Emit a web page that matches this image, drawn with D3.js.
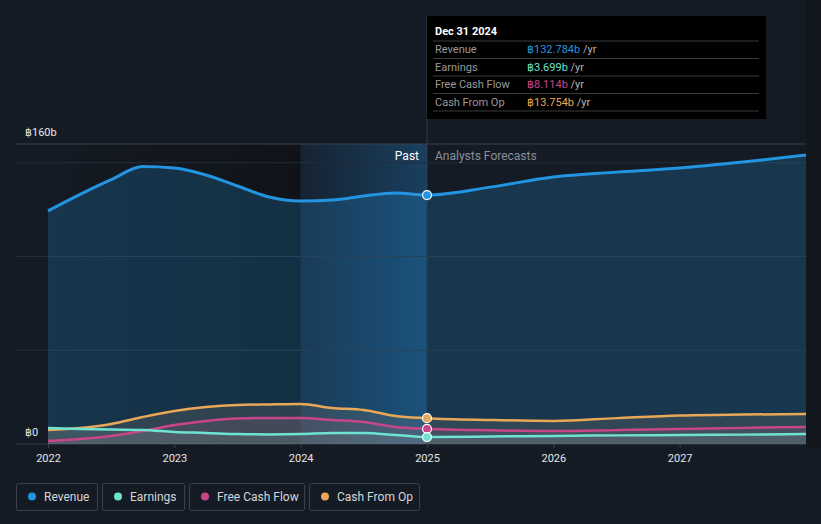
<!DOCTYPE html>
<html><head><meta charset="utf-8">
<script src="https://cdn.jsdelivr.net/npm/d3@7"></script>
<style>
html,body{margin:0;padding:0;background:#151b25;}
svg{display:block;font-family:Roboto,"Noto Sans",sans-serif;}
</style></head><body>
<svg id="c" width="821" height="524"></svg>
<script>
// ---- data (values in ฿ billions) ----
const pastYears = [2022.0,2022.25,2022.5,2022.75,2023.0,2023.25,2023.5,2023.75,2024.0,2024.25,2024.5,2024.75,2025.0];
const forecastYears = [2025.0,2025.5,2026.0,2026.5,2027.0,2027.5,2028.0];
const revenuePast = [124.3,133.0,141.0,148.0,147.2,143.5,137.6,131.7,129.6,130.1,132.3,133.9,132.784];
const revenueForecast = [132.784,137.0,142.4,145.0,147.2,150.4,154.1];
const earningsPast = [8.5,8.0,7.7,7.5,6.4,5.9,5.3,5.1,5.3,5.9,5.9,4.8,3.699];
const earningsForecast = [3.699,4.0,4.3,4.6,4.8,5.0,5.3];
const fcfPast = [1.6,2.7,4.3,6.9,10.1,12.3,13.6,13.9,13.9,12.8,11.7,9.1,8.114];
const fcfForecast = [8.114,7.3,6.9,7.4,8.0,8.6,9.1];
const cfoPast = [7.5,8.5,10.7,14.4,17.6,19.7,20.8,21.1,21.3,19.2,18.1,14.9,13.754];
const cfoForecast = [13.754,12.8,12.3,13.8,15.2,15.7,16.0];
const xTicks = [2022,2023,2024,2025,2026,2027];
const yGrid = [0,50,100,150];
const yLabels = [{v:160,t:"฿160b"},{v:0,t:"฿0"}];
const seriesNames = ["Revenue","Earnings","Free Cash Flow","Cash From Op"];
const seriesColors = ["#2394df","#6fe3d1","#c9458a","#e8a857"];
const tooltipTitle = "Dec 31 2024";
const tooltipValues = ["฿132.784b","฿3.699b","฿8.114b","฿13.754b"];
const hoverYear = 2025.0;

const svg = d3.select("#c");
const x = d3.scaleLinear().domain([2022,2028]).range([48,806]);
const y = d3.scaleLinear().domain([0,160]).range([444,144]);
const left = 16, right = 806;

svg.append("rect").attr("x",right).attr("y",0).attr("width",821-right).attr("height",448).attr("fill","#12161d");

const defs = svg.append("defs");
const pg = defs.append("linearGradient").attr("id","pastG").attr("x1",0).attr("x2",1);
pg.append("stop").attr("offset",0).attr("stop-color","#0e1115").attr("stop-opacity",0);
pg.append("stop").attr("offset",1).attr("stop-color","#0e1115").attr("stop-opacity",0.75);
svg.append("rect").attr("x",left).attr("y",144).attr("width",x(2024)-left).attr("height",300).attr("fill","url(#pastG)");
const hg = defs.append("linearGradient").attr("id","hiG").attr("x1",0).attr("x2",1);
hg.append("stop").attr("offset",0).attr("stop-color","#1b4f7a").attr("stop-opacity",0.15);
hg.append("stop").attr("offset",1).attr("stop-color","#1b4f7a").attr("stop-opacity",0.7);
svg.append("rect").attr("x",x(2024)).attr("y",144).attr("width",x(2025)-x(2024)).attr("height",300).attr("fill","url(#hiG)");

// gridlines
svg.append("line").attr("x1",left).attr("x2",right).attr("y1",y(160)).attr("y2",y(160)).attr("stroke","#3b4049").attr("stroke-width",1);
yGrid.forEach(v=>{
  svg.append("line").attr("x1",left).attr("x2",right).attr("y1",y(v)).attr("y2",y(v))
    .attr("stroke", v===0 ? "#3b4049" : "#262c36").attr("stroke-width",1);
});
yLabels.forEach(d=>{
  svg.append("text").attr("x",25).attr("y",y(d.v)-8).attr("fill","#e6e6e6").attr("font-size",11).text(d.t);
});

// series
const all = [
  {past:revenuePast, fc:revenueForecast, fillOp:0.22, w:3},
  {past:earningsPast, fc:earningsForecast, fillOp:0.10, w:2.5},
  {past:fcfPast, fc:fcfForecast, fillOp:0.12, w:2.5},
  {past:cfoPast, fc:cfoForecast, fillOp:0.12, w:2.5}
];
const line = d3.line().x(d=>x(d[0])).y(d=>y(d[1])).curve(d3.curveMonotoneX);
const area = d3.area().x(d=>x(d[0])).y0(y(0)).y1(d=>y(d[1])).curve(d3.curveMonotoneX);
const order = [0,3,2,1];
const ptsOf = s => pastYears.map((t,k)=>[t,s.past[k]]).concat(forecastYears.slice(1).map((t,k)=>[t,s.fc[k+1]]));
order.forEach(i=>{
  const s = all[i];
  const pts = ptsOf(s);
  svg.append("path").attr("d",area(pts)).attr("fill", i===0 ? "#2394df" : "#8a8a8a")
    .attr("fill-opacity", i===0 ? s.fillOp : 0.13);
  if(i!==0) svg.append("path").attr("d",area(pts)).attr("fill",seriesColors[i]).attr("fill-opacity",0.06);
});
order.forEach(i=>{
  const s = all[i];
  svg.append("path").attr("d",line(ptsOf(s))).attr("fill","none").attr("stroke",seriesColors[i]).attr("stroke-width",s.w);
});

// hover line
svg.append("line").attr("x1",x(hoverYear)).attr("x2",x(hoverYear)).attr("y1",16).attr("y2",444).attr("stroke","#2c3a4c").attr("stroke-width",1);

svg.append("text").attr("x",x(hoverYear)-8).attr("y",160).attr("text-anchor","end").attr("fill","#ffffff").attr("font-size",12).text("Past");
svg.append("text").attr("x",x(hoverYear)+8).attr("y",160).attr("fill","#8a8f98").attr("font-size",12).text("Analysts Forecasts");

[0,3,2,1].forEach(i=>{
  svg.append("circle").attr("cx",x(hoverYear)).attr("cy",y(all[i].past[all[i].past.length-1])).attr("r",4.5)
    .attr("fill",seriesColors[i]).attr("stroke","#ffffff").attr("stroke-width",1.2);
});

// x axis
const xa = svg.append("g").attr("transform",`translate(0,${y(0)})`)
  .call(d3.axisBottom(x).tickValues(xTicks).tickFormat(d3.format("d")).tickSize(4).tickPadding(6));
xa.select(".domain").remove();
xa.selectAll("line").attr("stroke","#3b4049");
xa.selectAll("text").attr("fill","#e6e6e6").attr("font-size",11).attr("font-family","Roboto,sans-serif");

// tooltip
const tt = svg.append("g").attr("transform","translate(427,16)");
tt.append("rect").attr("width",339).attr("height",103).attr("fill","#000000");
tt.append("text").attr("x",8).attr("y",19).attr("fill","#ffffff").attr("font-size",11).attr("font-weight","bold").text(tooltipTitle);
seriesNames.forEach((n,i)=>{
  const yy = 25 + i*17.5;
  tt.append("line").attr("x1",6).attr("x2",332).attr("y1",yy).attr("y2",yy).attr("stroke","#3a3a3a");
  tt.append("text").attr("x",8).attr("y",yy+12).attr("fill","#9a9a9a").attr("font-size",11).text(n);
  const t = tt.append("text").attr("x",100).attr("y",yy+12).attr("font-size",11);
  t.append("tspan").attr("fill",seriesColors[i]).text(tooltipValues[i]);
  t.append("tspan").attr("fill","#b5b5b5").text(" /yr");
});
tt.append("line").attr("x1",6).attr("x2",332).attr("y1",95).attr("y2",95).attr("stroke","#3a3a3a");

// legend
const legX = [16,102,189,309], legW = [81,82,115,110];
seriesNames.forEach((n,i)=>{
  const g = svg.append("g").attr("transform",`translate(${legX[i]},483)`);
  g.append("rect").attr("x",0.5).attr("y",0.5).attr("width",legW[i]).attr("height",27).attr("rx",2).attr("fill","none").attr("stroke","#3b404a");
  g.append("circle").attr("cx",16).attr("cy",13.5).attr("r",4).attr("fill",seriesColors[i]);
  g.append("text").attr("x",28).attr("y",17.5).attr("fill","#d4d6da").attr("font-size",12).text(n);
});
</script>
</body></html>
